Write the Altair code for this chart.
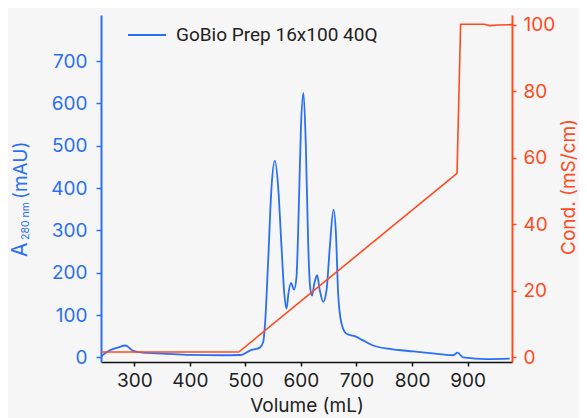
import altair as alt
import pandas as pd

# ---- data ----
volume_a280 = [240, 255, 270, 284, 297, 315, 351, 400, 460, 487, 493, 508, 526, 532, 535,
               541, 547, 553, 559, 565, 570, 574, 577.5, 582, 587.6, 592, 596, 600, 604.5,
               608.7, 613, 616.5, 620, 624, 629, 634, 640, 646, 652, 658.6, 663, 667, 673,
               682, 697, 712, 730, 760, 802, 832, 874, 882, 892, 935, 976]
a280 = [2, 16, 23, 28, 16, 11, 9, 6, 5, 5.5, 6, 16, 23, 36, 72,
        229, 402, 465, 402, 261, 151, 115, 151, 176, 160, 190, 347, 544, 625,
        505, 269, 166, 146, 174, 194, 158, 131, 158, 261, 349, 292, 150, 80,
        56, 50, 40, 28, 20, 14, 10, 5, 11, 0, -4, -3]

volume_cond = [240, 488, 881, 887.5, 930, 940, 955, 980]
cond = [1.5, 1.5, 55.3, 100.2, 100.2, 99.8, 100.0, 100.1]

series_name = "GoBio Prep 16x100 40Q"
x_ticks = [300, 400, 500, 600, 700, 800, 900]
a_ticks = [0, 100, 200, 300, 400, 500, 600, 700]
c_ticks = [0, 20, 40, 60, 80, 100]

BLUE = "#2a6ff4"
ORANGE = "#ff4b1f"
DARK = "#222222"
FONT = "Inter"
LEGEND_FONT = "Roboto"
FS = 19

df_a = pd.DataFrame({"volume": volume_a280, "a280": a280, "series": series_name})
df_c = pd.DataFrame({"volume": volume_cond, "cond": cond})

x_enc = alt.X(
    "volume:Q",
    scale=alt.Scale(domain=[240, 980], nice=False, zero=False),
    axis=alt.Axis(values=x_ticks, title="Volume (mL)", grid=False,
                  domainColor="#111111", domainWidth=1.5, tickColor="#111111",
                  tickSize=4, tickWidth=1.5, labelFont=FONT, labelFontSize=FS,
                  labelColor=DARK, labelPadding=5, titleFont=FONT, titleFontSize=FS,
                  titleColor=DARK, titleFontWeight="normal", titlePadding=6),
)

blue = alt.Chart(df_a).mark_line(strokeWidth=1.8, interpolate="monotone", clip=True).encode(
    x=x_enc,
    y=alt.Y("a280:Q", scale=alt.Scale(domain=[-11, 809], nice=False, zero=False),
            axis=alt.Axis(orient="left", values=a_ticks, title=None, grid=False,
                          domainColor=BLUE, domainWidth=2, tickColor=BLUE, tickSize=5,
                          tickWidth=1.5, labelFont=FONT, labelFontSize=FS, labelColor=BLUE,
                          labelPadding=9)),
    color=alt.Color("series:N", scale=alt.Scale(domain=[series_name], range=[BLUE]),
                    legend=alt.Legend(orient="none", legendX=26, legendY=0, title=None,
                                      symbolType="stroke", symbolSize=1444,
                                      symbolStrokeWidth=2, labelFont=LEGEND_FONT,
                                      labelFontSize=FS, labelColor=DARK, labelOffset=9,
                                      labelLimit=0, padding=0)),
)

orange = alt.Chart(df_c).mark_line(strokeWidth=1.6, color=ORANGE, clip=True).encode(
    x=alt.X("volume:Q", scale=alt.Scale(domain=[240, 980], nice=False, zero=False)),
    y=alt.Y("cond:Q", scale=alt.Scale(domain=[-1.5, 103], nice=False, zero=False),
            axis=alt.Axis(orient="right", values=c_ticks, title=None, grid=False,
                          domainColor=ORANGE, domainWidth=2, tickColor=ORANGE, tickSize=4,
                          tickWidth=1.5, labelFont=FONT, labelFontSize=FS,
                          labelColor=ORANGE, labelPadding=7)),
)

one = pd.DataFrame({"k": [0]})

t_a = alt.Chart(one).mark_text(text="A", angle=270, align="left", baseline="alphabetic",
                               font=FONT, fontSize=21, color=BLUE).encode(
    x=alt.value(-74), y=alt.value(242))
t_sub = alt.Chart(one).mark_text(text="280 nm", angle=270, align="left", baseline="alphabetic",
                                 font=FONT, fontSize=10.5, color=BLUE).encode(
    x=alt.value(-72), y=alt.value(225))
t_unit = alt.Chart(one).mark_text(text="(mAU)", angle=270, align="left", baseline="alphabetic",
                                  font=FONT, fontSize=19, color=BLUE).encode(
    x=alt.value(-74), y=alt.value(184))
t_cond = alt.Chart(one).mark_text(text="Cond. (mS/cm)", angle=270, align="center",
                                  baseline="alphabetic", font=FONT, fontSize=19,
                                  color=ORANGE).encode(
    x=alt.value(474), y=alt.value(172))

chart = alt.layer(blue, orange, t_a, t_sub, t_unit, t_cond).resolve_scale(
    y="independent"
).properties(
    width=411, height=347,
    padding={"left": 93, "top": 7, "right": 67, "bottom": 56},
    autosize=alt.AutoSizeParams(type="none"),
).configure(background="#f6f6f6").configure_view(stroke=None)

chart.save("out.html", embed_options={"renderer": "svg", "actions": False})
